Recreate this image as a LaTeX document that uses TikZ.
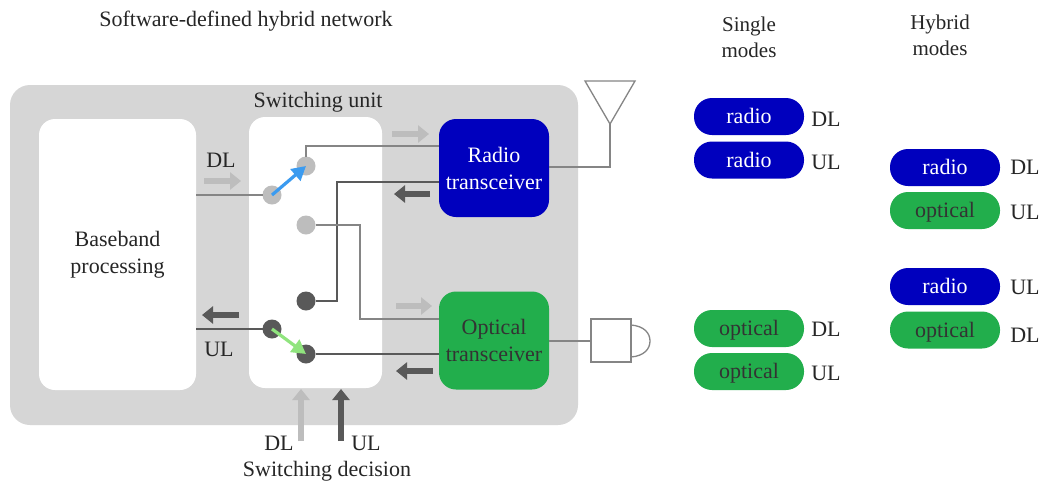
\documentclass[tikz,border=0pt]{standalone}
\usepackage{fontspec}
\setmainfont{Liberation Serif}
\usetikzlibrary{arrows.meta,calc}
\definecolor{panel}{HTML}{D6D6D6}
\definecolor{radioblue}{HTML}{0000BE}
\definecolor{optgreen}{HTML}{22AE4C}
\definecolor{lightarr}{HTML}{BDBDBD}
\definecolor{darkarr}{HTML}{595959}
\definecolor{wire}{HTML}{858585}
\definecolor{toggleblue}{HTML}{3B9BF0}
\definecolor{togglegreen}{HTML}{90E47E}
\tikzset{
  lbl/.style={font=\fontsize{22}{27}\selectfont,text=black!85,inner sep=0pt,align=center},
  rbox/.style={draw=none,fill=white,rounded corners=16pt,inner sep=0pt,outer sep=0pt},
  trx/.style={rounded corners=17pt,inner sep=0pt,outer sep=0pt,minimum width=110pt,minimum height=98pt,text=white,font=\fontsize{22}{27}\selectfont,align=center},
  pill/.style={rounded corners=18pt,inner sep=0pt,outer sep=0pt,minimum width=110pt,minimum height=37pt,text=white,font=\fontsize{22}{27}\selectfont,text height=19pt,text depth=5pt},
  rpill/.style={pill,fill=radioblue},
  opill/.style={pill,fill=optgreen,text=black!80},
  sw/.style={circle,inner sep=0pt,outer sep=0pt,minimum size=19pt},
  swl/.style={sw,fill=lightarr},
  swd/.style={sw,fill=darkarr},
  wireline/.style={draw=wire,line width=1.3pt},
  darkline/.style={draw=darkarr,line width=1.3pt},
  blockarrow/.style={line width=6pt,-{Triangle[length=11pt,width=17pt]}},
  larr/.style={blockarrow,draw=lightarr},
  darr/.style={blockarrow,draw=darkarr},
  togg/.style={line width=3.2pt,-{Triangle[length=14pt,width=15pt]}},
}
\begin{document}
\begin{tikzpicture}[x=1pt,y=-1pt]
\useasboundingbox (0,0) rectangle (1040,483);
\fill[white] (0,0) rectangle (1040,483);
% panels
\node[fill=panel,rounded corners=20pt,inner sep=0pt,outer sep=0pt,minimum width=568pt,minimum height=340pt] (unit) at (294,255) {};
\node[rbox,minimum width=157pt,minimum height=271pt] (base) at (117.5,254.5) {};
\node[rbox,minimum width=133pt,minimum height=271pt] (swbox) at (315.5,252.5) {};
\node[lbl] (basetxt) at (117.5,255) {Baseband\\processing};
\node[lbl] (title) at (246,21) {Software-defined hybrid network};
\node[lbl] (swtxt) at (318,102) {Switching unit};
% transceivers
\node[trx,fill=radioblue] (radio) at (494,168) {Radio\\transceiver};
\node[trx,fill=optgreen,text=black!80] (optical) at (494,340.5) {Optical\\transceiver};
% switch contacts
\node[swl] (s1) at (272,195) {};
\node[swl] (s2) at (306,166) {};
\node[swl] (s3) at (306,225) {};
\node[swd] (s4) at (306,301) {};
\node[swd] (s5) at (272,329) {};
\node[swd] (s6) at (306,354) {};
% wires
\draw[wireline] (s1.west) -- (s1.west -| base.east);
\draw[wireline] (s2.north) |- ($(radio.west)+(0,-22)$);
\draw[darkline] (s4.east) -| (337,182) -- ($(radio.west)+(0,14)$);
\draw[wireline] (s3.east) -| (360,319) -- ($(optical.west)+(0,-21.5)$);
\draw[darkline] (s5.west) -- (s5.west -| base.east);
\draw[darkline] (s6.east) -- (s6.east -| optical.west);
% toggles
\draw[togg,draw=toggleblue] (s1.center) -- (s2.center);
\draw[togg,draw=togglegreen] (s5.center) -- (s6.center);
% flow arrows
\coordinate (a1s) at (204,181); \coordinate (a1e) at (241,181);
\coordinate (a2s) at (392,134); \coordinate (a2e) at (429,134);
\coordinate (a3s) at (396,306); \coordinate (a3e) at (432,306);
\coordinate (a4s) at (430,194); \coordinate (a4e) at (394,194);
\coordinate (a5s) at (239,315); \coordinate (a5e) at (202,315);
\coordinate (a6s) at (433,371); \coordinate (a6e) at (396,371);
\coordinate (a7s) at (301,441); \coordinate (a7e) at (301,389);
\coordinate (a8s) at (341,441); \coordinate (a8e) at (341,389);
\draw[larr] (a1s) -- (a1e);
\draw[larr] (a2s) -- (a2e);
\draw[larr] (a3s) -- (a3e);
\draw[darr] (a4s) -- (a4e);
\draw[darr] (a5s) -- (a5e);
\draw[darr] (a6s) -- (a6e);
\draw[larr] (a7s) -- (a7e);
\draw[darr] (a8s) -- (a8e);
% labels
\node[lbl] (ldl) at (221,160) {DL};
\node[lbl] (lul) at (219,349) {UL};
\node[lbl] (ldl2) at (279,443) {DL};
\node[lbl] (lul2) at (366,443) {UL};
\node[lbl] (lsd) at (327,471) {Switching decision};
% antenna
\coordinate (ant1) at (585,81); \coordinate (ant2) at (635,81); \coordinate (ant3) at (610,124);
\coordinate (antb) at (610,167);
\draw[wireline,line join=miter] (ant1) -- (ant2) -- (ant3) -- cycle;
\draw[wireline] (ant3) -- (antb) -- (radio.east |- antb);
% photodetector
\node[draw=wire,line width=1.3pt,fill=white,inner sep=0pt,outer sep=0pt,minimum width=40pt,minimum height=43pt] (pd) at (611,340.5) {};
\draw[wireline] ($(pd.west)+(0,0.5)$) -- ($(pd.west -| optical.east)+(0,0.5)$);
\draw[draw=wire,line width=1.3pt] (631,325) .. controls (644,326) and (650,333) .. (650,341) .. controls (650,349) and (644,356) .. (631,357);
% column headings
\node[lbl,font=\fontsize{21}{26}\selectfont] (h1) at (749,37) {Single\\modes};
\node[lbl,font=\fontsize{21}{26}\selectfont] (h2) at (940,35) {Hybrid\\modes};
% mode pills
\node[rpill] (p1) at (749,116.5) {radio};
\node[rpill] (p2) at (749,160) {radio};
\node[opill] (p3) at (749,328.5) {optical};
\node[opill] (p4) at (749,371.5) {optical};
\node[rpill] (p5) at (945,167.5) {radio};
\node[opill] (p6) at (945,210.5) {optical};
\node[rpill] (p7) at (945,286.5) {radio};
\node[opill] (p8) at (945,330) {optical};
\node[lbl] (m1) at (826,119) {DL};
\node[lbl] (m2) at (826,162) {UL};
\node[lbl] (m3) at (826,329) {DL};
\node[lbl] (m4) at (826,373) {UL};
\node[lbl] (m5) at (1025,167) {DL};
\node[lbl] (m6) at (1025,212) {UL};
\node[lbl] (m7) at (1025,287) {UL};
\node[lbl] (m8) at (1025,335) {DL};
\end{tikzpicture}
\end{document}
